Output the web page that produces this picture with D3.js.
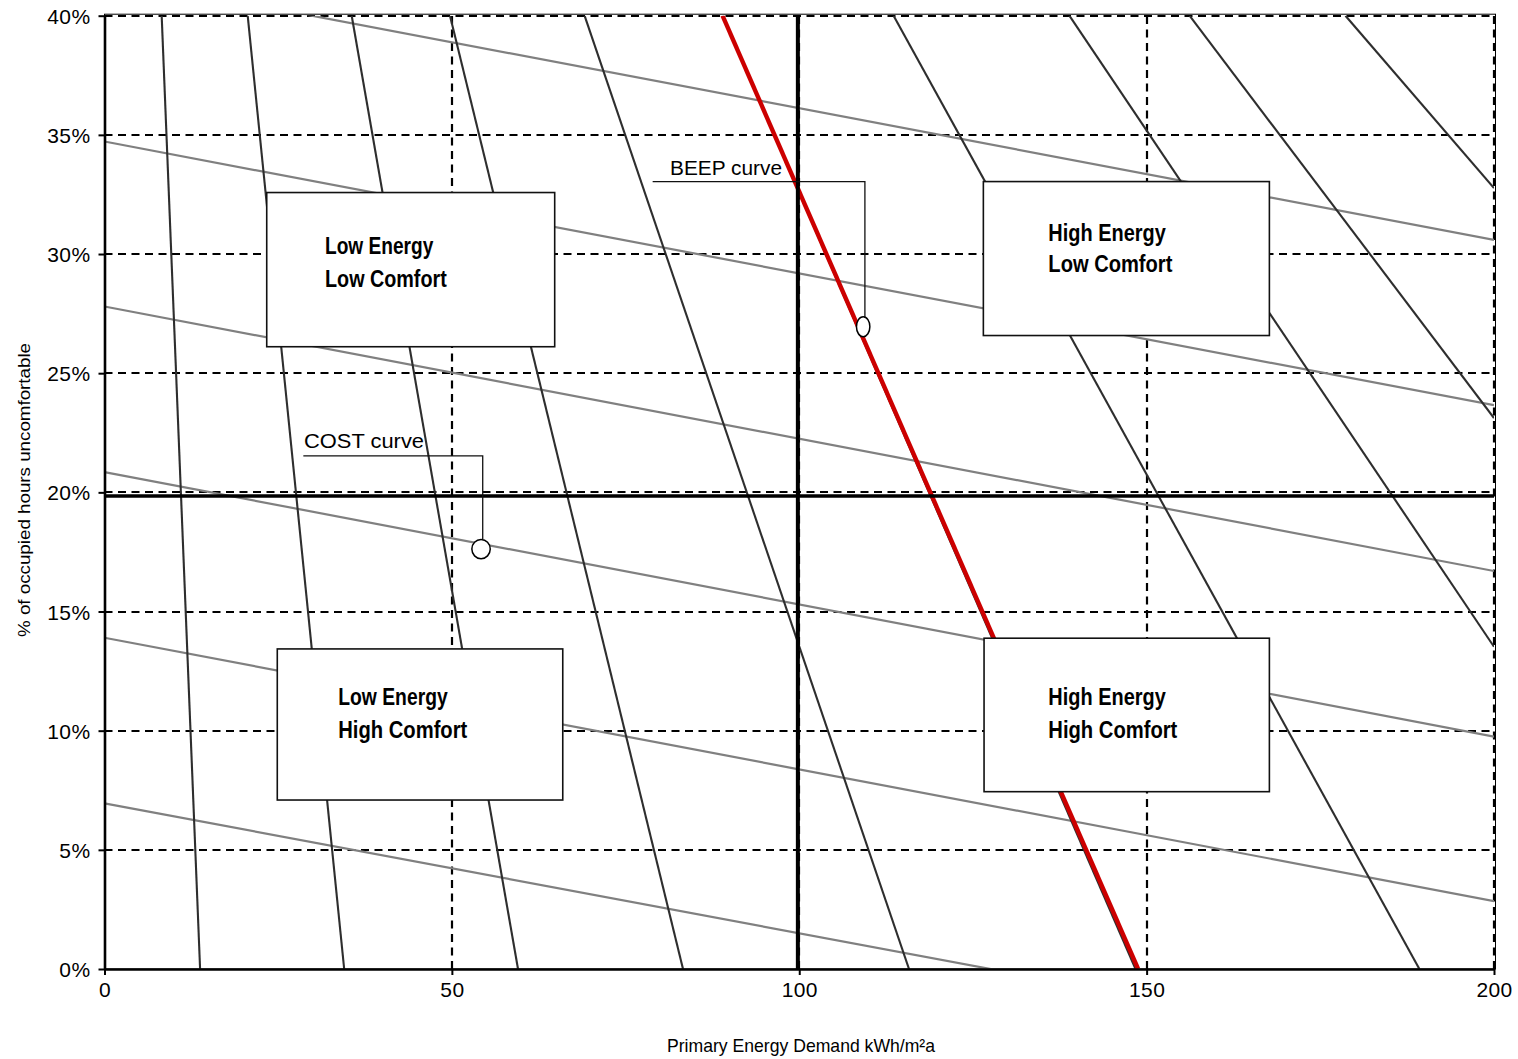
<!DOCTYPE html>
<html><head><meta charset="utf-8">
<script src="https://cdn.jsdelivr.net/npm/d3@7"></script>
<style>body{margin:0;background:#fff} svg{display:block}</style>
</head><body>
<svg id="chart" width="1518" height="1059"></svg>
<script>
// ---------- data ----------
const xTicks = [0, 50, 100, 150, 200];
const yTicks = [0, 5, 10, 15, 20, 25, 30, 35, 40];
const xTitle = "Primary Energy Demand kWh/m²a";
const yTitle = "% of occupied hours uncomfortable";

// BEEP curves (dark): start point and end point in data units
const beepStartX = [8.23, 20.61, 35.58, 49.73, 69.1, 88.96, 113.58, 138.88, 156.18, 178.62];
const beepStartY = [40, 40, 40, 40, 40, 40, 40, 40, 40, 40];
const beepEndX   = [13.76, 34.5, 59.52, 83.27, 115.8, 148.4, 189.26, 200, 200, 200];
const beepEndY   = [0, 0, 0, 0, 0, 0, 0, 13.52, 23.12, 32.77];

// highlighted BEEP curve (red)
const redBeepX = [88.96, 148.77];
const redBeepY = [40, 0];

// COST curves (grey): value at x=0 and x=200
const costX = [0, 200];
const costLeftY  = [6.95, 13.9, 20.85, 27.8, 34.72, 41.65];
const costRightY = [-3.95, 2.85, 9.75, 16.7, 23.66, 30.59];

// benchmark lines
const benchmarkEnergy = 99.8;
const benchmarkDiscomfort = 19.85;

// quadrant labels
const quadrantText = [
  ["Low Energy", "Low Comfort"],
  ["Low Energy", "High Comfort"],
  ["High Energy", "Low Comfort"],
  ["High Energy", "High Comfort"]
];
const calloutText = ["BEEP curve", "COST curve"];

// ---------- layout ----------
const svg = d3.select("#chart");
const x = d3.scaleLinear().domain([0, 200]).range([104.5, 1494]);
const y = d3.scaleLinear().domain([0, 40]).range([969, 15.7]);
const FONT = "'Liberation Sans', Arial, sans-serif";
const NARROW = "'Liberation Sans Narrow', 'Arial Narrow', 'Liberation Sans', Arial, sans-serif";
const snap = v => Math.round(v);

svg.append("defs").append("clipPath").attr("id", "plotClip")
  .append("rect").attr("x", x(0)).attr("y", y(40))
  .attr("width", x(200) - x(0)).attr("height", y(0) - y(40));

// plot border (thin)
svg.append("rect").attr("x", x(0)).attr("y", y(40) - 1.5)
  .attr("width", x(200) - x(0) + 1.5).attr("height", y(0) - y(40) + 1.5)
  .attr("fill", "none").attr("stroke", "#000").attr("stroke-width", 1);

// gridlines
const grid = svg.append("g");
grid.selectAll("line.h").data(yTicks.filter(d => d > 0)).join("line")
  .attr("x1", x(0)).attr("x2", x(200))
  .attr("y1", d => snap(y(d))).attr("y2", d => snap(y(d)))
  .attr("stroke", "#000").attr("stroke-width", 2.2).attr("stroke-dasharray", "8,5.5");
grid.selectAll("line.v").data(xTicks.filter(d => d > 0)).join("line")
  .attr("y1", y(0)).attr("y2", y(40))
  .attr("x1", d => snap(x(d))).attr("x2", d => snap(x(d)))
  .attr("stroke", "#000").attr("stroke-width", 2.2).attr("stroke-dasharray", "8,5.5");

const plot = svg.append("g").attr("clip-path", "url(#plotClip)");

// COST curves
const costData = costLeftY.map((v, i) => [[costX[0], v], [costX[1], costRightY[i]]]);
const line = d3.line().x(d => x(d[0])).y(d => y(d[1]));
plot.selectAll("path.cost").data(costData).join("path")
  .attr("d", line).attr("fill", "none")
  .attr("stroke", "#808080").attr("stroke-width", 2.2);

// BEEP curves
const beepData = beepStartX.map((v, i) => [[v, beepStartY[i]], [beepEndX[i], beepEndY[i]]]);
plot.selectAll("path.beep").data(beepData).join("path")
  .attr("d", line).attr("fill", "none")
  .attr("stroke", "#2e2e2e").attr("stroke-width", 2.1);

// red BEEP curve
plot.append("path")
  .attr("d", line(redBeepX.map((v, i) => [v, redBeepY[i]])))
  .attr("fill", "none").attr("stroke", "#cc0000").attr("stroke-width", 4.4);

// benchmark lines
svg.append("line").attr("x1", x(benchmarkEnergy)).attr("x2", x(benchmarkEnergy))
  .attr("y1", y(40)).attr("y2", y(0)).attr("stroke", "#000").attr("stroke-width", 4);
svg.append("line").attr("x1", x(0)).attr("x2", x(200))
  .attr("y1", y(benchmarkDiscomfort)).attr("y2", y(benchmarkDiscomfort))
  .attr("stroke", "#000").attr("stroke-width", 3.5);

// axes
const yAxis = svg.append("g").attr("transform", `translate(${x(0)},0)`)
  .call(d3.axisLeft(y).tickValues(yTicks).tickFormat(d => d + "%").tickSize(6).tickSizeOuter(0));
const xAxis = svg.append("g").attr("transform", `translate(0,${y(0)})`)
  .call(d3.axisBottom(x).tickValues(xTicks).tickFormat(d3.format("d")).tickSize(6).tickSizeOuter(0));
[yAxis, xAxis].forEach(g => {
  g.select(".domain").attr("stroke", "#000").attr("stroke-width", 2.6);
  g.selectAll(".tick line").attr("stroke", "#000").attr("stroke-width", 2);
  g.selectAll("text").attr("font-family", FONT).attr("font-size", 21).attr("fill", "#000")
    .attr("letter-spacing", 0.4);
});
yAxis.selectAll("text").attr("x", -14).attr("dy", "0.36em");
xAxis.selectAll("text").attr("y", 28).attr("dy", 0);

// axis titles
svg.append("text").attr("x", 801).attr("y", 1051.5).attr("text-anchor", "middle")
  .attr("font-family", NARROW).attr("font-size", 19).attr("fill", "#000")
  .attr("textLength", 268).attr("lengthAdjust", "spacingAndGlyphs").text(xTitle);
svg.append("text").attr("transform", "translate(29.5,490) rotate(-90)").attr("text-anchor", "middle")
  .attr("font-family", FONT).attr("font-size", 17).attr("fill", "#000")
  .attr("textLength", 294).attr("lengthAdjust", "spacingAndGlyphs").text(yTitle);

// quadrant boxes (data-space extents)
const boxes = [
  {x0: 23.35, x1: 64.80, yTop: 32.58, yBot: 26.11, tx: 58.3, b1: 61.3, b2: 94.6, w: [108.3, 121.7]},
  {x0: 24.87, x1: 65.96, yTop: 13.43, yBot: 7.09, tx: 61.0, b1: 56.0, b2: 89.3, w: [109.4, 129]},
  {x0: 126.50, x1: 167.67, yTop: 33.04, yBot: 26.58, tx: 65.0, b1: 59.0, b2: 90.0, w: [117.4, 124]},
  {x0: 126.60, x1: 167.67, yTop: 13.88, yBot: 7.44, tx: 64.3, b1: 66.7, b2: 100.0, w: [117.4, 129]}
];
const bg = svg.append("g");
boxes.forEach((b, i) => {
  const bx = x(b.x0), by = y(b.yTop);
  bg.append("rect").attr("x", bx).attr("y", by)
    .attr("width", x(b.x1) - x(b.x0)).attr("height", y(b.yBot) - y(b.yTop))
    .attr("fill", "#fff").attr("stroke", "#111").attr("stroke-width", 1.6);
  [b.b1, b.b2].forEach((off, j) => {
    bg.append("text").attr("x", bx + b.tx).attr("y", by + off)
      .attr("font-family", NARROW).attr("font-weight", "bold").attr("font-size", 23)
      .attr("fill", "#000").attr("textLength", b.w[j]).attr("lengthAdjust", "spacingAndGlyphs")
      .text(quadrantText[i][j]);
  });
});

// callouts
const callouts = [
  {label: calloutText[0], tx: 81.4, ty: 33.33, lx0: 78.9, lx1: 109.45, ly: 33.04, ay: 27.35,
   cx: 109.2, cy: 26.95, rx: 6.7, ry: 10, tw: 112},
  {label: calloutText[1], tx: 28.72, ty: 21.85, lx0: 28.62, lx1: 54.44, ly: 21.53, ay: 18.03,
   cx: 54.2, cy: 17.62, rx: 9.2, ry: 9.6, tw: 120}
];
const cg = svg.append("g");
callouts.forEach(c => {
  cg.append("path")
    .attr("d", `M${x(c.lx0)},${y(c.ly)}H${x(c.lx1)}V${y(c.ay)}`)
    .attr("fill", "none").attr("stroke", "#111").attr("stroke-width", 1.3);
  cg.append("ellipse").attr("cx", x(c.cx)).attr("cy", y(c.cy)).attr("rx", c.rx).attr("ry", c.ry)
    .attr("fill", "#fff").attr("stroke", "#000").attr("stroke-width", 1.5);
  cg.append("text").attr("x", x(c.tx)).attr("y", y(c.ty))
    .attr("font-family", FONT).attr("font-size", 20).attr("fill", "#000")
    .attr("textLength", c.tw).attr("lengthAdjust", "spacingAndGlyphs").text(c.label);
});
</script>
</body></html>
